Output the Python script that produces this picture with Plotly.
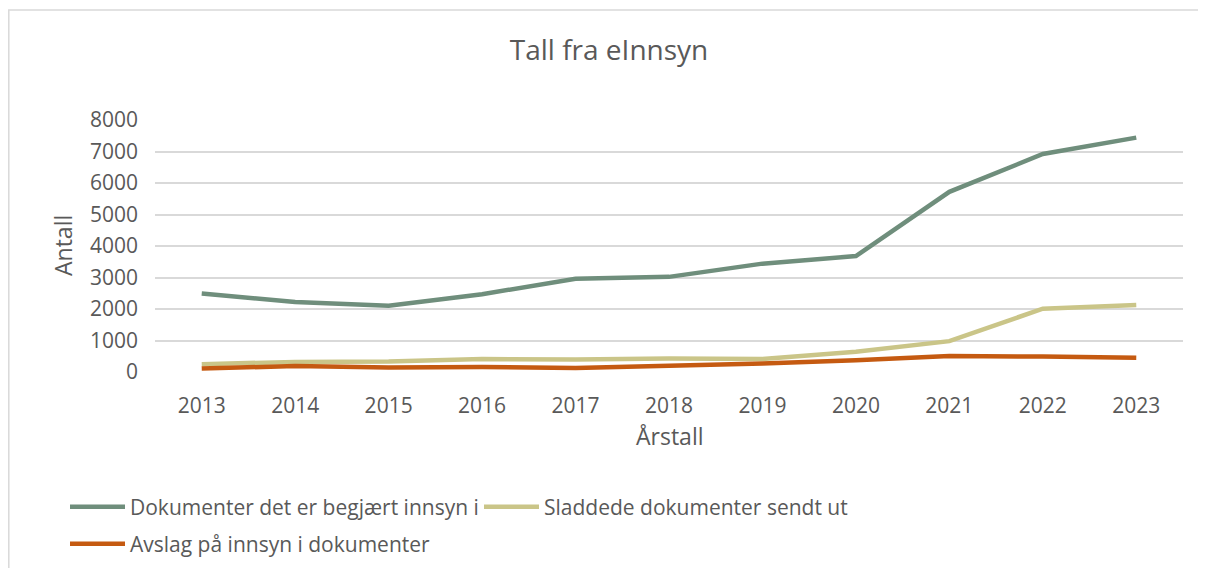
import plotly.graph_objects as go

years = ["2013", "2014", "2015", "2016", "2017", "2018", "2019", "2020", "2021", "2022", "2023"]
begjaert = [2490, 2220, 2100, 2470, 2960, 3020, 3440, 3680, 5720, 6920, 7440]
sladdede = [250, 320, 330, 410, 400, 430, 410, 640, 980, 2010, 2130]
avslag = [110, 190, 140, 160, 130, 190, 270, 370, 510, 490, 450]
y_ticks = [0, 1000, 2000, 3000, 4000, 5000, 6000, 7000, 8000]

names = ["Dokumenter det er begjært innsyn i", "Sladdede dokumenter sendt ut", "Avslag på innsyn i dokumenter"]
colors = ["#6F8E7C", "#CAC588", "#C55A11"]
legends = ["legend", "legend", "legend2"]
FONT = "Open Sans, Liberation Sans, sans-serif"
TXT = "#595959"

# page body has an 8px margin: figure is drawn at (8, 8) in the window
W, H = 1198, 560
L, R, T, B = 147, 23, 112, 196
pw = W - L - R
ph = H - T - B

fig = go.Figure()
for name, vals, c, lg in zip(names, [begjaert, sladdede, avslag], colors, legends):
    fig.add_trace(go.Scatter(x=years, y=vals, mode="lines", name=name, legend=lg,
                             line=dict(color=c, width=4.5)))

leg_common = dict(orientation="h", xanchor="left", yanchor="middle",
                  font=dict(size=21, color=TXT, family=FONT), itemwidth=55,
                  bgcolor="rgba(0,0,0,0)")
fig.update_layout(
    width=W, height=H,
    margin=dict(l=L, r=R, t=T, b=B, autoexpand=False),
    paper_bgcolor="white", plot_bgcolor="white",
    font=dict(family=FONT, color=TXT, size=21),
    title=dict(text="Tall fra eInnsyn", x=0.5017, xanchor="center", y=0.925, yanchor="middle",
               font=dict(size=28, color=TXT, family=FONT)),
    showlegend=True,
    legend=dict(x=(57 - L) / pw, y=(T + ph - 499) / ph, entrywidth=344, **leg_common),
    legend2=dict(x=(57 - L) / pw, y=(T + ph - 536) / ph, **leg_common),
)
fig.update_xaxes(type="category", range=[-0.5, 10.5], showgrid=False, showline=False,
                 ticks="", tickfont=dict(size=21, color=TXT), ticklabelstandoff=19)
fig.update_yaxes(range=[0, 8000], tickvals=y_ticks, showgrid=True, gridcolor="#D9D9D9",
                 gridwidth=1.5, zeroline=False, showline=False, ticks="",
                 tickfont=dict(size=21, color=TXT), ticklabelstandoff=16)

fig.add_annotation(text="Årstall", xref="paper", yref="paper", x=(662 - L) / pw,
                   y=(T + ph - 428) / ph, xanchor="center", yanchor="middle",
                   showarrow=False, font=dict(size=23, color=TXT, family=FONT))
fig.add_annotation(text="Antall", xref="paper", yref="paper", x=(55 - L) / pw,
                   y=(T + ph - 238) / ph, xanchor="center", yanchor="middle", textangle=-90,
                   showarrow=False, font=dict(size=23, color=TXT, family=FONT))

# chart border
fig.add_shape(type="rect", xref="paper", yref="paper",
              x0=(0.8 - L) / pw, x1=(1192 - L) / pw,
              y0=(T + ph - 600) / ph, y1=(T + ph - 2) / ph,
              line=dict(color="#D9D9D9", width=1.5), layer="below")

fig.write_html("out.html")
